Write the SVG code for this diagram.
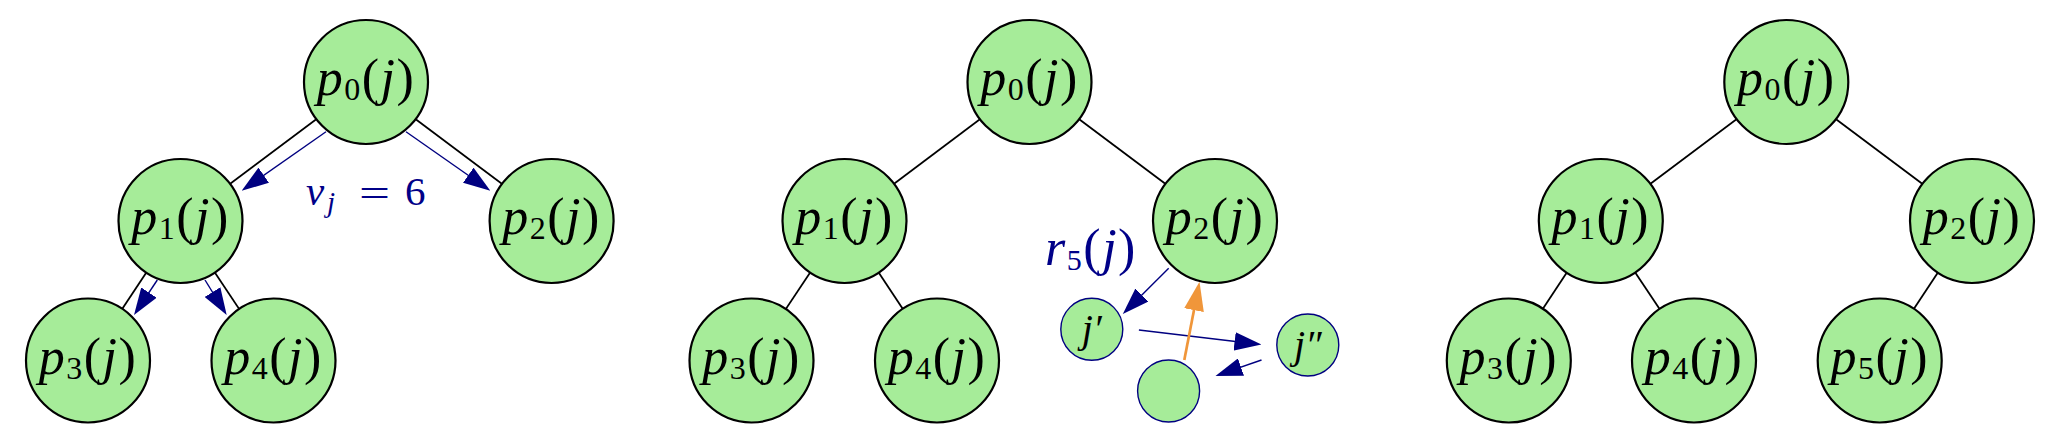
<svg xmlns="http://www.w3.org/2000/svg" width="2062" height="444" viewBox="0 0 2062 444">
<style>
.nd{fill:#a6ec99;stroke:#000;stroke-width:2.2}
.sn{fill:#a6ec99;stroke:#000080;stroke-width:1.4}
.edge{stroke:#000;stroke-width:1.8;fill:none}
.ba{stroke:#000080;stroke-width:1.4;fill:none;marker-end:url(#ah)}
.oa{stroke:#f0963a;stroke-width:2.7;fill:none;marker-end:url(#ao)}
.lbl{font-family:"Liberation Serif","Times New Roman",serif;font-size:52px;fill:#000;text-anchor:middle;letter-spacing:1.5px}
.blue{fill:#000088}
.it{font-style:italic}
.sub{font-size:32px}
.sm{font-family:"Liberation Serif","Times New Roman",serif;font-size:40px;fill:#000;text-anchor:middle;font-style:italic}
.vt{font-family:"Liberation Serif","Times New Roman",serif;font-size:41px}
</style>
<defs>
<marker id="ah" markerUnits="userSpaceOnUse" markerWidth="27" markerHeight="18.5" viewBox="0 0 27 18.5" refX="20" refY="9.25" orient="auto"><path d="M0,0 L27,9.25 L0,18.5 z" fill="#000080"/></marker>
<marker id="ao" markerUnits="userSpaceOnUse" markerWidth="29" markerHeight="20" viewBox="0 0 29 20" refX="19" refY="10" orient="auto"><path d="M0,0 L29,10 L0,20 z" fill="#f0963a"/></marker>
</defs>
<g id="connectors">
<!-- panel 1 -->
<line class="edge" x1="366" y1="82" x2="180.5" y2="221"/>
<line class="edge" x1="366" y1="82" x2="551.6" y2="221"/>
<line class="edge" x1="180.5" y1="221" x2="88" y2="360.5"/>
<line class="edge" x1="180.5" y1="221" x2="273.5" y2="360.5"/>
<line class="ba" x1="326" y1="131.7" x2="247.4" y2="186.7"/>
<line class="ba" x1="406" y1="131.7" x2="484.6" y2="186.7"/>
<line class="ba" x1="157.3" y1="280" x2="137.9" y2="309.2"/>
<line class="ba" x1="205" y1="280" x2="223" y2="309.1"/>
<!-- panel 2 -->
<line class="edge" x1="1029.5" y1="82" x2="844.5" y2="221"/>
<line class="edge" x1="1029.5" y1="82" x2="1215" y2="221"/>
<line class="edge" x1="844.5" y1="221" x2="751.5" y2="360.5"/>
<line class="edge" x1="844.5" y1="221" x2="937" y2="360.5"/>
<line class="ba" x1="1168.7" y1="268.3" x2="1127.8" y2="309.1"/>
<line class="ba" x1="1138.9" y1="330" x2="1254.5" y2="343.7"/>
<line class="ba" x1="1261.5" y1="360" x2="1222.1" y2="373.7"/>
<line class="oa" x1="1184.3" y1="360" x2="1197.6" y2="291.5"/>
<!-- panel 3 -->
<line class="edge" x1="1786.3" y1="82" x2="1600.8" y2="221"/>
<line class="edge" x1="1786.3" y1="82" x2="1972" y2="221"/>
<line class="edge" x1="1600.8" y1="221" x2="1508.8" y2="360.5"/>
<line class="edge" x1="1600.8" y1="221" x2="1694" y2="360.5"/>
<line class="edge" x1="1972" y1="221" x2="1879.7" y2="360.5"/>
</g>
<g id="panel1">
<g id="a_p0"><circle class="nd" cx="366" cy="82" r="62"/><text class="lbl" x="366" y="95"><tspan class="it">p</tspan><tspan class="sub" dy="5">0</tspan><tspan dy="-5">(</tspan><tspan class="it">j</tspan>)</text></g>
<g id="a_p1"><circle class="nd" cx="180.5" cy="221" r="62"/><text class="lbl" x="180.5" y="234"><tspan class="it">p</tspan><tspan class="sub" dy="5">1</tspan><tspan dy="-5">(</tspan><tspan class="it">j</tspan>)</text></g>
<g id="a_p2"><circle class="nd" cx="551.6" cy="221" r="62"/><text class="lbl" x="551.6" y="234"><tspan class="it">p</tspan><tspan class="sub" dy="5">2</tspan><tspan dy="-5">(</tspan><tspan class="it">j</tspan>)</text></g>
<g id="a_p3"><circle class="nd" cx="88" cy="360.5" r="62"/><text class="lbl" x="88" y="373.5"><tspan class="it">p</tspan><tspan class="sub" dy="5">3</tspan><tspan dy="-5">(</tspan><tspan class="it">j</tspan>)</text></g>
<g id="a_p4"><circle class="nd" cx="273.5" cy="360.5" r="62"/><text class="lbl" x="273.5" y="373.5"><tspan class="it">p</tspan><tspan class="sub" dy="5">4</tspan><tspan dy="-5">(</tspan><tspan class="it">j</tspan>)</text></g>
<g id="a_vj" class="blue">
<text class="vt" y="205"><tspan x="306" font-style="italic">v</tspan><tspan x="327" dy="7" font-size="29" font-style="italic">j</tspan></text>
<text class="vt" x="359" y="207" textLength="31" lengthAdjust="spacingAndGlyphs">=</text>
<text class="vt" x="405" y="205">6</text>
</g>
</g>
<g id="panel2">
<g id="b_p0"><circle class="nd" cx="1029.5" cy="82" r="62"/><text class="lbl" x="1029.5" y="95"><tspan class="it">p</tspan><tspan class="sub" dy="5">0</tspan><tspan dy="-5">(</tspan><tspan class="it">j</tspan>)</text></g>
<g id="b_p1"><circle class="nd" cx="844.5" cy="221" r="62"/><text class="lbl" x="844.5" y="234"><tspan class="it">p</tspan><tspan class="sub" dy="5">1</tspan><tspan dy="-5">(</tspan><tspan class="it">j</tspan>)</text></g>
<g id="b_p2"><circle class="nd" cx="1215" cy="221" r="62"/><text class="lbl" x="1215" y="234"><tspan class="it">p</tspan><tspan class="sub" dy="5">2</tspan><tspan dy="-5">(</tspan><tspan class="it">j</tspan>)</text></g>
<g id="b_p3"><circle class="nd" cx="751.5" cy="360.5" r="62"/><text class="lbl" x="751.5" y="373.5"><tspan class="it">p</tspan><tspan class="sub" dy="5">3</tspan><tspan dy="-5">(</tspan><tspan class="it">j</tspan>)</text></g>
<g id="b_p4"><circle class="nd" cx="937" cy="360.5" r="62"/><text class="lbl" x="937" y="373.5"><tspan class="it">p</tspan><tspan class="sub" dy="5">4</tspan><tspan dy="-5">(</tspan><tspan class="it">j</tspan>)</text></g>
<g id="b_j1"><circle class="sn" cx="1091.8" cy="329.3" r="31"/><text class="sm" x="1091.8" y="342">j′</text></g>
<g id="b_j2"><circle class="sn" cx="1307.8" cy="345" r="31"/><text class="sm" x="1307.8" y="358">j″</text></g>
<g id="b_empty"><circle class="sn" cx="1168.6" cy="391" r="31"/></g>
<text id="b_r5" class="lbl blue" x="1091" y="265" font-size="48"><tspan class="it">r</tspan><tspan dy="5" font-size="30">5</tspan><tspan dy="-5">(</tspan><tspan class="it">j</tspan>)</text>
</g>
<g id="panel3">
<g id="c_p0"><circle class="nd" cx="1786.3" cy="82" r="62"/><text class="lbl" x="1786.3" y="95"><tspan class="it">p</tspan><tspan class="sub" dy="5">0</tspan><tspan dy="-5">(</tspan><tspan class="it">j</tspan>)</text></g>
<g id="c_p1"><circle class="nd" cx="1600.8" cy="221" r="62"/><text class="lbl" x="1600.8" y="234"><tspan class="it">p</tspan><tspan class="sub" dy="5">1</tspan><tspan dy="-5">(</tspan><tspan class="it">j</tspan>)</text></g>
<g id="c_p2"><circle class="nd" cx="1972" cy="221" r="62"/><text class="lbl" x="1972" y="234"><tspan class="it">p</tspan><tspan class="sub" dy="5">2</tspan><tspan dy="-5">(</tspan><tspan class="it">j</tspan>)</text></g>
<g id="c_p3"><circle class="nd" cx="1508.8" cy="360.5" r="62"/><text class="lbl" x="1508.8" y="373.5"><tspan class="it">p</tspan><tspan class="sub" dy="5">3</tspan><tspan dy="-5">(</tspan><tspan class="it">j</tspan>)</text></g>
<g id="c_p4"><circle class="nd" cx="1694" cy="360.5" r="62"/><text class="lbl" x="1694" y="373.5"><tspan class="it">p</tspan><tspan class="sub" dy="5">4</tspan><tspan dy="-5">(</tspan><tspan class="it">j</tspan>)</text></g>
<g id="c_p5"><circle class="nd" cx="1879.7" cy="360.5" r="62"/><text class="lbl" x="1879.7" y="373.5"><tspan class="it">p</tspan><tspan class="sub" dy="5">5</tspan><tspan dy="-5">(</tspan><tspan class="it">j</tspan>)</text></g>
</g>
</svg>
